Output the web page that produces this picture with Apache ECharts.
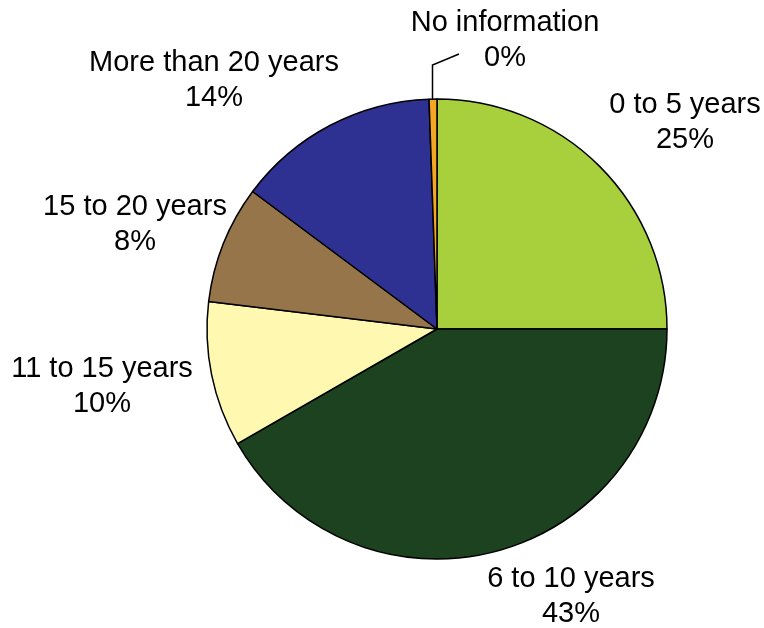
<!DOCTYPE html>
<html><head><meta charset="utf-8">
<script src="https://cdn.jsdelivr.net/npm/echarts@6/dist/echarts.min.js"></script>
<style>html,body{margin:0;padding:0;background:#fff}#c{width:764px;height:628px}</style>
</head><body><div id="c"></div>
<script>
var categories = ['0 to 5 years','6 to 10 years','11 to 15 years','15 to 20 years','More than 20 years','No information'];
var values = [25, 41.7, 10.2, 8.3, 14.25, 0.55];
var labelPercents = ['25','43','10','8','14','0'];
var colors = ['#A8CF3C','#1C4220','#FFF8B0','#97754A','#2F3192','#F5A623'];
var labelPos = [[685,122],[571,596],[102,386],[135,224],[214,80],[505,40]];

var chart = echarts.init(document.getElementById('c'));
chart.setOption({
  backgroundColor:'#fff',
  animation:false,
  series:[{
    type:'pie',
    center:[437,329],
    radius:[0,230],
    startAngle:90,
    clockwise:true,
    avoidLabelOverlap:false,
    itemStyle:{borderColor:'#000',borderWidth:1.5},
    label:{
      show:true, position:'outside', color:'#000',
      fontFamily:'"Liberation Sans", Arial, Helvetica, sans-serif',
      fontSize:29, lineHeight:35, align:'center',
      formatter:function(p){return p.name+'\n'+labelPercents[p.dataIndex]+'%';}
    },
    labelLine:{show:false},
    labelLayout:function(p){
      var pos = labelPos[p.dataIndex];
      var r = {x:pos[0], y:pos[1], align:'center', verticalAlign:'middle'};
      if (p.dataIndex === 5) r.labelLinePoints = [[432.5,99],[432.5,65],[459,54]];
      return r;
    },
    emphasis:{disabled:true},
    data:categories.map(function(n,i){
      var d = {name:n, value:values[i], itemStyle:{color:colors[i]}};
      if (i === 5) d.labelLine = {show:true, lineStyle:{color:'#000',width:1.5}, length:10, length2:10};
      return d;
    })
  }]
});
</script></body></html>
